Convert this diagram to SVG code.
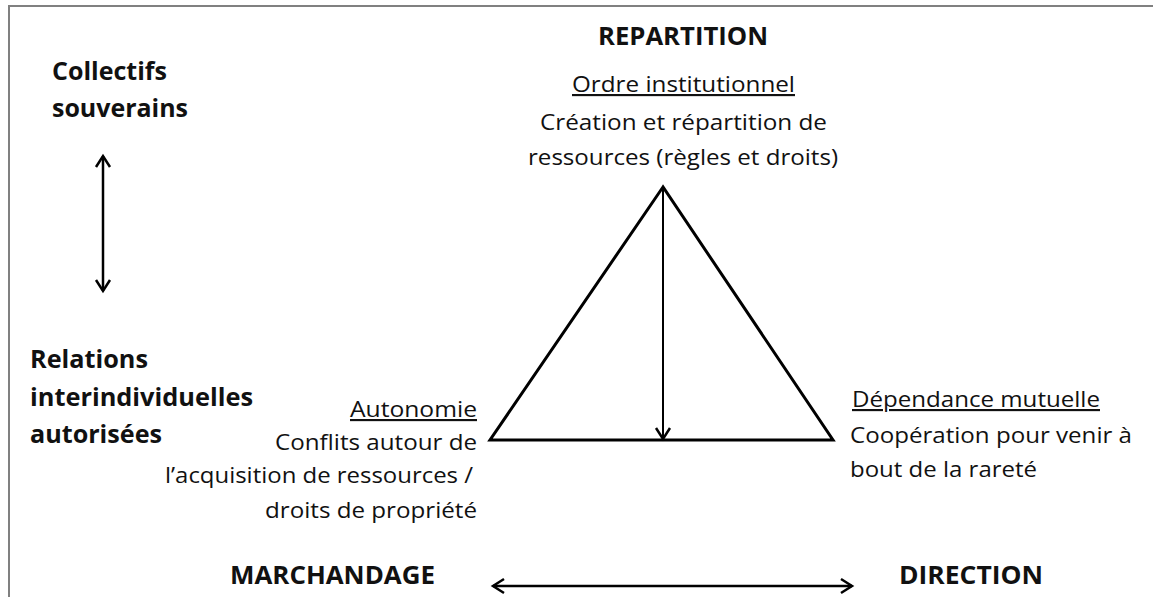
<svg xmlns="http://www.w3.org/2000/svg" width="1153" height="597" viewBox="0 0 1153 597">
<style>
text{font-family:"Open Sans","Liberation Sans",sans-serif;fill:#111;}
.h{font-weight:bold;font-size:25px;}
.t{font-size:21.5px;}
.u{text-decoration:underline;}
.ln{stroke:#000;fill:none;}
</style>
<defs>
<marker id="ah" markerUnits="userSpaceOnUse" markerWidth="20" markerHeight="20" viewBox="-14 -10 16 20" refX="0" refY="0" orient="auto-start-reverse">
<path d="M-11,-7 L0,0 L-11,7" fill="none" stroke="#000" stroke-width="2.5" stroke-linejoin="miter"/>
</marker>
</defs>
<rect width="1153" height="597" fill="#fff"/>
<path d="M9,597 V6 H1153" fill="none" stroke="#808080" stroke-width="2"/>

<g id="triangle">
<polygon points="663,187 490,440 833,440" class="ln" stroke-width="3" stroke-linejoin="miter"/>
</g>

<g id="connectors">
<line x1="663" y1="189" x2="663" y2="439" class="ln" stroke-width="2" marker-end="url(#ah)"/>
<line x1="103" y1="156" x2="103" y2="291" class="ln" stroke-width="2.5" marker-start="url(#ah)" marker-end="url(#ah)"/>
<line x1="493" y1="586" x2="852" y2="586" class="ln" stroke-width="2.5" marker-start="url(#ah)" marker-end="url(#ah)"/>
</g>

<g id="top">
<text class="h" x="598" y="45" textLength="170" lengthAdjust="spacingAndGlyphs">REPARTITION</text>
<text class="t u" x="572" y="92" textLength="223" lengthAdjust="spacingAndGlyphs">Ordre institutionnel</text>
<text class="t" x="540" y="130" textLength="287" lengthAdjust="spacingAndGlyphs">Création et répartition de</text>
<text class="t" x="528" y="165" textLength="310" lengthAdjust="spacingAndGlyphs">ressources (règles et droits)</text>
</g>

<g id="collectifs">
<text class="h" x="52" y="80" font-size="24" textLength="115" lengthAdjust="spacingAndGlyphs">Collectifs</text>
<text class="h" x="52" y="117" font-size="24" textLength="136" lengthAdjust="spacingAndGlyphs">souverains</text>
</g>

<g id="relations">
<text class="h" x="30" y="368" font-size="24" textLength="118" lengthAdjust="spacingAndGlyphs">Relations</text>
<text class="h" x="30" y="406" font-size="24" textLength="223" lengthAdjust="spacingAndGlyphs">interindividuelles</text>
<text class="h" x="30" y="443" font-size="24" textLength="132" lengthAdjust="spacingAndGlyphs">autorisées</text>
</g>

<g id="autonomie">
<text class="t u" x="350" y="417" textLength="127" lengthAdjust="spacingAndGlyphs">Autonomie</text>
<text class="t" x="275" y="450" textLength="202" lengthAdjust="spacingAndGlyphs">Conflits autour de</text>
<text class="t" x="165" y="483" textLength="308" lengthAdjust="spacingAndGlyphs">l’acquisition de ressources /</text>
<text class="t" x="265" y="518" textLength="212" lengthAdjust="spacingAndGlyphs">droits de propriété</text>
</g>

<g id="dependance">
<text class="t u" x="852" y="407" textLength="248" lengthAdjust="spacingAndGlyphs">Dépendance mutuelle</text>
<text class="t" x="850" y="443" textLength="282" lengthAdjust="spacingAndGlyphs">Coopération pour venir à</text>
<text class="t" x="850" y="477" textLength="187" lengthAdjust="spacingAndGlyphs">bout de la rareté</text>
</g>

<g id="marchandage">
<text class="h" x="230" y="584" textLength="205" lengthAdjust="spacingAndGlyphs">MARCHANDAGE</text>
</g>
<g id="direction">
<text class="h" x="899" y="584" textLength="144" lengthAdjust="spacingAndGlyphs">DIRECTION</text>
</g>
</svg>
